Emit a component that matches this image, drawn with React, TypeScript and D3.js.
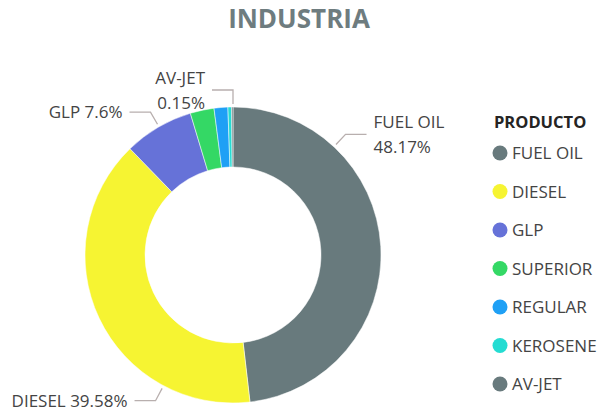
import React from "react";
import * as d3 from "d3";

// chart data
const products = ["FUEL OIL", "DIESEL", "GLP", "SUPERIOR", "REGULAR", "KEROSENE", "AV-JET"];
const shares = [48.17, 39.58, 7.6, 2.6, 1.5, 0.4, 0.15];
const colors = ["#687a7d", "#f6f432", "#6672d8", "#34d865", "#1fa0f5", "#24dcd2", "#687a7d"];

// which slices get an outside label, and where Power BI pinned its leader line (degrees from 12 o'clock)
const labeled = [
  { name: "FUEL OIL", angle: 43, side: 1, twoLines: true },
  { name: "DIESEL", angle: 208, side: -1, twoLines: false },
  { name: "GLP", angle: 330, side: -1, twoLines: false },
  { name: "AV-JET", angle: 0, side: -1, twoLines: true },
];

const width = 599;
const height = 412;
const font = "'Segoe UI', 'Open Sans', sans-serif";

function App() {
  const cx = 233;
  const cy = 255;
  const outerR = 148;
  const innerR = 88;

  const pie = d3
    .pie<number>()
    .sort(null)
    .value((d) => d);
  const arcs = pie(shares);

  const arc = d3
    .arc<d3.PieArcDatum<number>>()
    .innerRadius(innerR)
    .outerRadius(outerR);

  const polar = (deg: number, r: number) => {
    const a = (deg * Math.PI) / 180;
    return [Math.sin(a) * r, -Math.cos(a) * r];
  };

  const legendY = d3
    .scalePoint<string>()
    .domain(products)
    .range([153, 384]);

  return (
    <svg
      width={width}
      height={height}
      style={{ position: "absolute", left: 0, top: 0, background: "#fff" }}
      fontFamily={font}
    >
      <text
        x={299}
        y={28}
        textAnchor="middle"
        fontSize={26}
        fontWeight={700}
        fill="#6e7c7f"
      >
        INDUSTRIA
      </text>

      <g transform={`translate(${cx},${cy})`}>
        {arcs.map((a, i) => (
          <path key={products[i]} d={arc(a) || ""} fill={colors[i]} stroke="#fff" strokeWidth={0.5} />
        ))}

        {labeled.map((l) => {
          const i = products.indexOf(l.name);
          const [x0, y0] = polar(l.angle, outerR + 3);
          const [x1, y1] = polar(l.angle, outerR + 17);
          const x2 = x1 + l.side * 21;
          const tx = x2 + l.side * 7;
          const anchor = l.side > 0 ? "start" : "end";
          const pct = `${shares[i]}%`;
          return (
            <g key={l.name}>
              <polyline
                points={`${x0},${y0} ${x1},${y1} ${x2},${y1}`}
                fill="none"
                stroke="#b8afae"
                strokeWidth={1.3}
              />
              {l.twoLines ? (
                <text x={tx} y={y1} textAnchor={anchor} fontSize={17} fill="#444">
                  <tspan x={tx} dy={-6}>{l.name}</tspan>
                  <tspan x={tx} dy={25}>{pct}</tspan>
                </text>
              ) : (
                <text x={tx} y={y1 + 6} textAnchor={anchor} fontSize={17} fill="#444">
                  {`${l.name} ${pct}`}
                </text>
              )}
            </g>
          );
        })}
      </g>

      <g>
        <text x={494} y={128} fontSize={16.5} fontWeight={700} fill="#252423">
          PRODUCTO
        </text>
        {products.map((p, i) => (
          <g key={p} transform={`translate(500,${legendY(p)})`}>
            <circle r={7.5} fill={colors[i]} />
            <text x={12} y={6} fontSize={17} fill="#444">
              {p}
            </text>
          </g>
        ))}
      </g>
    </svg>
  );
}

export default App;
